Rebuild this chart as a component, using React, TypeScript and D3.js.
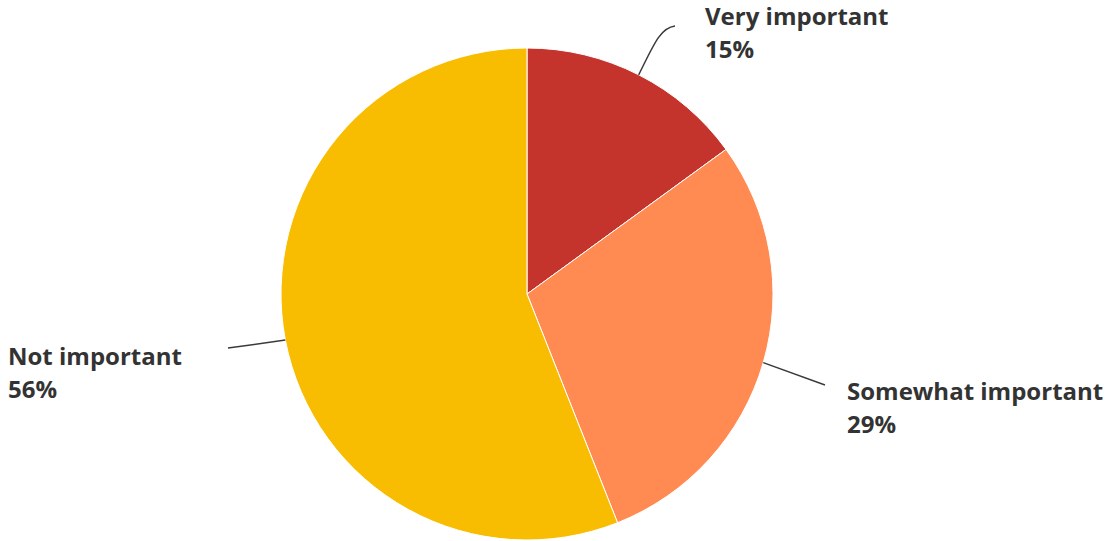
import React from "react";
import * as d3 from "d3";

const categories = ["Very important", "Somewhat important", "Not important"];
const values = [15, 29, 56];
const colors = ["#C4342C", "#FF8B52", "#F8BD00"];
// label layout: leader end point and text anchor (layout config)
const labelLayout = [
  { end: [675, 26], textX: 705, textY: 25, curve: true },
  { end: [825, 385], textX: 847, textY: 400, curve: false },
  { end: [228, 348], textX: 8, textY: 365, curve: false },
];

export default function App() {
  const width = 1114;
  const height = 541;
  const cx = 527;
  const cy = 294;
  const r = 246;
  const data = categories.map((c, i) => ({ c, v: values[i], i }));
  const pie = d3.pie<any>().sort(null).value((d: any) => d.v);
  const arcs = pie(data);
  const arc = d3.arc<any>().innerRadius(0).outerRadius(r);
  return (
    <svg width={width} height={height} style={{ position: "absolute", left: 0, top: 0 }}>
      <rect width={width} height={height} fill="#fff" />
      <g transform={`translate(${cx},${cy})`}>
        {arcs.map((a, i) => (
          <path key={i} d={arc(a) || ""} fill={colors[i]} stroke="#fff" strokeWidth={1} />
        ))}
      </g>
      {arcs.map((a, i) => {
        const mid = (a.startAngle + a.endAngle) / 2;
        const sx = cx + r * Math.sin(mid);
        const sy = cy - r * Math.cos(mid);
        const L = labelLayout[i];
        const [ex, ey] = L.end;
        const d = L.curve
          ? `M${sx},${sy} C${sx + 15},${sy - 30} ${ex - 15},${ey + 2} ${ex},${ey}`
          : `M${sx},${sy} L${ex},${ey}`;
        return (
          <g key={i}>
            <path d={d} fill="none" stroke="#3a3a3a" strokeWidth={1.5} />
            <text
              x={L.textX}
              y={L.textY}
              fontFamily="'Open Sans', sans-serif"
              fontWeight="bold"
              fontSize={24}
              fill="#333"
            >
              <tspan x={L.textX} y={L.textY}>{categories[i]}</tspan>
              <tspan x={L.textX} y={L.textY + 33}>{`${values[i]}%`}</tspan>
            </text>
          </g>
        );
      })}
    </svg>
  );
}
